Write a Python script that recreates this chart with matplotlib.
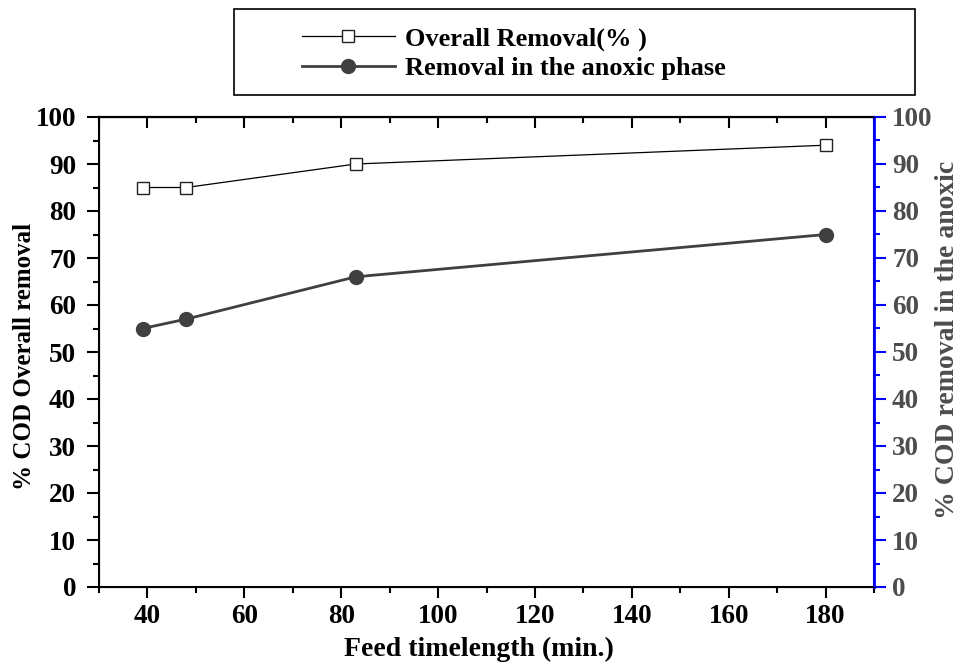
import matplotlib
matplotlib.use("Agg")
import matplotlib.pyplot as plt
from matplotlib.patches import Rectangle
from matplotlib.ticker import MultipleLocator

feed_time = [39, 48, 83, 180]
overall_removal = [85, 85, 90, 94]
anoxic_removal = [55, 57, 66, 75]
label_overall = "Overall Removal(% )"
label_anoxic = "Removal in the anoxic phase"

plt.rcParams['font.family'] = ['Liberation Serif', 'DejaVu Serif']
plt.rcParams['font.weight'] = 'bold'

W, H = 962, 665
AX_L, AX_R, AX_T, AX_B = 99, 874, 117, 587
fig = plt.figure(figsize=(W / 100, H / 100), dpi=100)
ax = fig.add_axes([AX_L / W, 1 - AX_B / H, (AX_R - AX_L) / W, (AX_B - AX_T) / H])

l1, = ax.plot(feed_time, overall_removal, color='black', lw=0.9, marker='s', ms=8.5,
              mfc='white', mec='#222222', mew=1.0, label=label_overall)
l2, = ax.plot(feed_time, anoxic_removal, color='#404040', lw=2.0, marker='o', ms=10,
              mfc='#404040', mec='#404040', label=label_anoxic)

TICK_FS = 19.5
ax.set_xlim(30, 190)
ax.set_ylim(0, 100)
ax.xaxis.set_major_locator(MultipleLocator(20))
ax.xaxis.set_minor_locator(MultipleLocator(10))
ax.yaxis.set_major_locator(MultipleLocator(10))
ax.yaxis.set_minor_locator(MultipleLocator(5))
ax.tick_params(axis='x', which='both', direction='out', top=False, labelsize=TICK_FS,
               width=1.5, pad=4.5)
ax.tick_params(axis='x', which='major', length=8)
ax.tick_params(axis='x', which='minor', length=4.5)
ax.tick_params(axis='y', which='both', direction='out', labelsize=TICK_FS, width=1.5, pad=8)
ax.tick_params(axis='y', which='major', length=8.5)
ax.tick_params(axis='y', which='minor', length=4.5)
for sp in ax.spines.values():
    sp.set_linewidth(1.5)

# top ticks point inward
axt = ax.secondary_xaxis('top')
axt.xaxis.set_major_locator(MultipleLocator(20))
axt.xaxis.set_minor_locator(MultipleLocator(10))
axt.tick_params(axis='x', which='both', direction='in', labeltop=False, width=1.5)
axt.tick_params(axis='x', which='major', length=8)
axt.tick_params(axis='x', which='minor', length=4.5)
axt.spines['top'].set_linewidth(1.5)

ax.set_xlabel("Feed timelength (min.)", fontsize=20, fontweight='bold')
ax.xaxis.set_label_coords(0.49, -(649 - AX_B) / (AX_B - AX_T))
ax.xaxis.label.set_va('center')
ax.set_ylabel("% COD Overall removal", fontsize=18, fontweight='bold')
ax.yaxis.set_label_coords(-(AX_L - 24) / (AX_R - AX_L), 0.49)
ax.yaxis.label.set_va('center')

ax2 = ax.twinx()
ax2.set_ylim(0, 100)
ax2.yaxis.set_major_locator(MultipleLocator(10))
ax2.yaxis.set_minor_locator(MultipleLocator(5))
ax2.spines['right'].set_color('blue')
ax2.spines['right'].set_linewidth(2)
ax2.tick_params(axis='y', which='both', colors='blue', labelcolor='#4d4d4d',
                labelsize=TICK_FS, width=1.5, pad=4.5)
ax2.tick_params(axis='y', which='major', length=8.5)
ax2.tick_params(axis='y', which='minor', length=4.5)
ax2.set_ylabel("% COD removal in the anoxic", fontsize=20, fontweight='bold',
               color='#4d4d4d')
ax2.yaxis.set_label_coords((948 - AX_L) / (AX_R - AX_L), (AX_B - 340) / (AX_B - AX_T))
ax2.yaxis.label.set_va('center')

# legend box
fig.patches.append(Rectangle((234 / W, 1 - 95 / H), (915 - 234) / W, 86 / H,
                             transform=fig.transFigure, fill=False, ec='black', lw=1.2))
fig.legend(handles=[l1, l2], loc='upper left', bbox_to_anchor=(289 / W, 1 - 14 / H),
           frameon=False, handlelength=3.5, handletextpad=0.4,
           borderpad=0, labelspacing=0.2, prop={'weight': 'bold', 'size': 19})

fig.savefig("out.png", dpi=100)
